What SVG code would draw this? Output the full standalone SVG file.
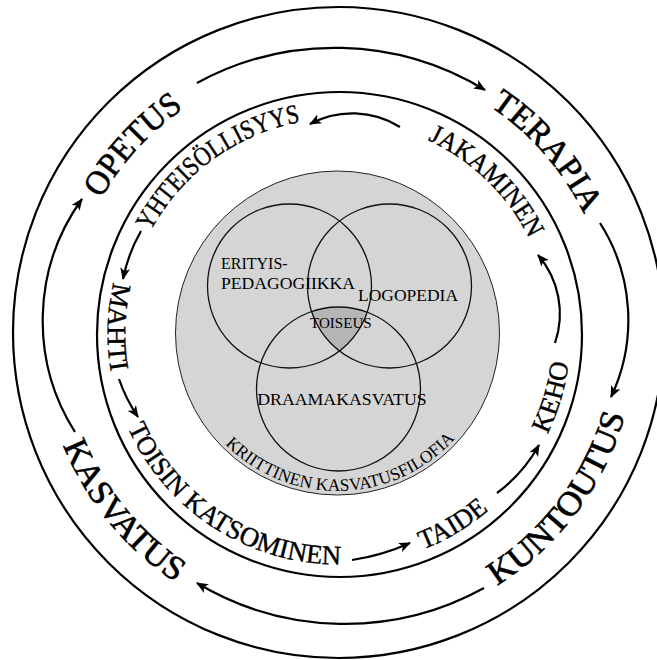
<svg xmlns="http://www.w3.org/2000/svg" xmlns:xlink="http://www.w3.org/1999/xlink" width="657" height="660" viewBox="0 0 657 660">
<style>
  .ring { fill: none; stroke: #000; stroke-width: 2.2; }
  .conn { fill: none; stroke: #000; stroke-width: 2.2; }
  .venn { fill: none; stroke: #111; stroke-width: 1.3; }
  .t { font-family: "Liberation Serif", "Times New Roman", serif; fill: #000; }
  .big { font-size: 34px; stroke: #000; stroke-width: 0.6; }
  .mid { font-size: 27px; stroke: #000; stroke-width: 0.4; }
  .sm { font-size: 16px; }
  .xs { font-size: 17.5px; }
</style>
<defs>
  <marker id="arr" markerUnits="userSpaceOnUse" viewBox="0 0 12 10" refX="11" refY="5" markerWidth="12" markerHeight="10" orient="auto">
    <path d="M0,0 L12,5 L0,10 L3,5 Z" fill="#000"/>
  </marker>
  <path id="p-opetus" d="M67.80,368.90 A273,273 0 0 1 350.65,60.77"/>
  <path id="p-terapia" d="M333.26,60.55 A273,273 0 0 1 608.21,375.74"/>
  <path id="p-kasvatus" d="M46.41,278.84 A298,298 0 0 0 335.38,631.48"/>
  <path id="p-kuntoutus" d="M354.61,631.07 A298,298 0 0 0 628.74,265.95"/>
  <path id="p-yht" d="M126.05,318.27 A213,213 0 0 1 390.39,124.92"/>
  <path id="p-jak" d="M316.79,121.61 A213,213 0 0 1 550.94,348.92"/>
  <path id="p-mahti" d="M195.29,152.55 A231,231 0 0 0 184.83,506.00"/>
  <path id="p-toisin" d="M109.37,362.85 A231,231 0 0 0 407.19,553.97"/>
  <path id="p-taide" d="M262.58,552.72 A232,232 0 0 0 567.57,370.19"/>
  <path id="p-keho" d="M430.83,546.34 A232,232 0 0 0 532.08,205.62"/>
  <path id="p-krit" d="M180.47,350.47 A158,158 0 0 0 495.18,343.06"/>
</defs>
<rect x="0" y="0" width="657" height="660" fill="#fff"/>

<g id="rings">
  <circle class="ring" cx="338.5" cy="332.5" r="325.5"/>
  <circle class="ring" cx="339.5" cy="334.5" r="242.5"/>
</g>

<g id="core">
  <circle cx="337.5" cy="333" r="162" fill="#d5d5d5" stroke="#222" stroke-width="1"/>
  <path d="M311.6,311.6 A82,82 0 0 1 367.2,312.2 A82,82 0 0 1 339.5,351 A82,82 0 0 1 311.6,311.6 Z" fill="#b5b5b5"/>
  <circle class="venn" cx="289.5" cy="286" r="82"/>
  <circle class="venn" cx="389.5" cy="286" r="82"/>
  <circle class="venn" cx="338.5" cy="389" r="82"/>
</g>

<g id="connectors">
  <path class="conn" marker-end="url(#arr)" d="M197,83 A288,288 0 0 1 485,90"/>
  <path class="conn" marker-end="url(#arr)" d="M600,223 A180,180 0 0 1 611,397"/>
  <path class="conn" marker-end="url(#arr)" d="M484,588 A288,288 0 0 1 197,583"/>
  <path class="conn" marker-end="url(#arr)" d="M75,432 A208,208 0 0 1 82,199"/>
  <path class="conn" marker-end="url(#arr)" d="M400,127 A90,90 0 0 0 310,124"/>
  <path class="conn" marker-end="url(#arr)" d="M141,231 A160,160 0 0 0 123,279"/>
  <path class="conn" marker-end="url(#arr)" d="M119,379 A160,160 0 0 0 138,417"/>
  <path class="conn" marker-end="url(#arr)" d="M352,560 A220,220 0 0 0 410,543"/>
  <path class="conn" marker-end="url(#arr)" d="M497,493 A150,150 0 0 0 539,445"/>
  <path class="conn" marker-end="url(#arr)" d="M555,343 A90,90 0 0 0 538,255"/>
</g>

<g id="opetus"><text class="t big" text-anchor="middle"><textPath href="#p-opetus" startOffset="50%" textLength="123" lengthAdjust="spacingAndGlyphs">OPETUS</textPath></text></g>
<g id="terapia"><text class="t big" text-anchor="middle"><textPath href="#p-terapia" startOffset="50%" textLength="145" lengthAdjust="spacingAndGlyphs">TERAPIA</textPath></text></g>
<g id="kasvatus"><text class="t big" text-anchor="middle"><textPath href="#p-kasvatus" startOffset="50%" textLength="180" lengthAdjust="spacingAndGlyphs">KASVATUS</textPath></text></g>
<g id="kuntoutus"><text class="t big" text-anchor="middle"><textPath href="#p-kuntoutus" startOffset="50%" textLength="218" lengthAdjust="spacingAndGlyphs">KUNTOUTUS</textPath></text></g>

<g id="yhteisollisyys"><text class="t mid" text-anchor="middle"><textPath href="#p-yht" startOffset="50%" textLength="192" lengthAdjust="spacingAndGlyphs">YHTEISÖLLISYYS</textPath></text></g>
<g id="jakaminen"><text class="t mid" text-anchor="middle"><textPath href="#p-jak" startOffset="50%" textLength="144" lengthAdjust="spacingAndGlyphs">JAKAMINEN</textPath></text></g>
<g id="mahti"><text class="t mid" text-anchor="middle"><textPath href="#p-mahti" startOffset="50%" textLength="90" lengthAdjust="spacingAndGlyphs">MAHTI</textPath></text></g>
<g id="toisin"><text class="t mid" text-anchor="middle"><textPath href="#p-toisin" startOffset="50%" textLength="268" lengthAdjust="spacingAndGlyphs">TOISIN KATSOMINEN</textPath></text></g>
<g id="taide"><text class="t mid" text-anchor="middle"><textPath href="#p-taide" startOffset="50%" textLength="77" lengthAdjust="spacingAndGlyphs">TAIDE</textPath></text></g>
<g id="keho"><text class="t mid" text-anchor="middle"><textPath href="#p-keho" startOffset="50%" textLength="75" lengthAdjust="spacingAndGlyphs">KEHO</textPath></text></g>

<g id="kriittinen"><text class="t xs" text-anchor="middle"><textPath href="#p-krit" startOffset="50%" textLength="257.3" lengthAdjust="spacingAndGlyphs">KRIITTINEN KASVATUSFILOFIA</textPath></text></g>

<g id="erityispedagogiikka">
  <text class="t sm" x="221" y="269">ERITYIS-</text>
  <text class="t sm" x="221" y="289" textLength="134" lengthAdjust="spacingAndGlyphs">PEDAGOGIIKKA</text>
</g>
<g id="logopedia"><text class="t sm" x="358" y="300.5" textLength="100" lengthAdjust="spacingAndGlyphs">LOGOPEDIA</text></g>
<g id="toiseus"><text class="t" font-size="15" x="310" y="328.3" textLength="61.7" lengthAdjust="spacingAndGlyphs">TOISEUS</text></g>
<g id="draamakasvatus"><text class="t sm" x="257.3" y="405" textLength="169.3" lengthAdjust="spacingAndGlyphs">DRAAMAKASVATUS</text></g>
</svg>
